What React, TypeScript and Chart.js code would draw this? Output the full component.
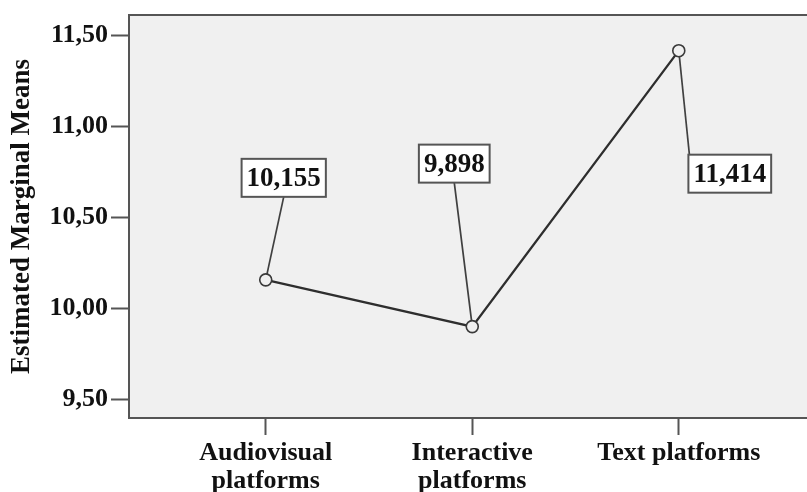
import React, { useEffect, useRef } from "react";
import { Chart, registerables } from "chart.js";

Chart.register(...registerables);

// ---- data ----
const categories: string[][] = [["Audiovisual", "platforms"], ["Interactive", "platforms"], ["Text platforms"]];
const means: number[] = [10.155, 9.898, 11.414];
const meanLabels: string[] = ["10,155", "9,898", "11,414"];
const yTicks: number[] = [9.5, 10, 10.5, 11, 11.5];
const yTickLabels: string[] = ["9,50", "10,00", "10,50", "11,00", "11,50"];
const yTitle = "Estimated Marginal Means";

// ---- label box placement (pixel offsets from each point) ----
const labelPlacement = [
  { dx: 18, dy: -102, anchor: "bottom" },
  { dx: -18, dy: -163, anchor: "bottom" },
  { dx: 51, dy: 123, anchor: "topleft" },
];

const FONT = '"Liberation Serif", "Times New Roman", serif';
const BORDER = "#555";

const frame = {
  id: "frame",
  beforeDraw(chart: any) {
    const { ctx, chartArea: a } = chart;
    ctx.save();
    ctx.fillStyle = "#f0f0f0";
    ctx.fillRect(a.left, a.top, chart.width - a.left, a.bottom - a.top);
    ctx.restore();
  },
  beforeDatasetsDraw(chart: any) {
    const { ctx, chartArea: a } = chart;
    ctx.save();
    ctx.strokeStyle = BORDER;
    ctx.lineWidth = 2;
    ctx.beginPath();
    ctx.moveTo(chart.width + 2, a.top);
    ctx.lineTo(a.left, a.top);
    ctx.lineTo(a.left, a.bottom);
    ctx.lineTo(chart.width + 2, a.bottom);
    ctx.stroke();
    // leader lines
    const meta = chart.getDatasetMeta(0);
    ctx.font = `bold 27px ${FONT}`;
    ctx.strokeStyle = "#404040";
    ctx.lineWidth = 1.7;
    meta.data.forEach((pt: any, i: number) => {
      const p = labelPlacement[i];
      const w = ctx.measureText(meanLabels[i]).width + 10;
      const h = 38;
      const cx = pt.x + p.dx;
      const cy = pt.y + p.dy;
      let ax = cx, ay = cy + h / 2;
      if (p.anchor === "topleft") { ax = cx - w / 2 + 1; ay = cy - h / 2; }
      ctx.beginPath();
      ctx.moveTo(ax, ay);
      ctx.lineTo(pt.x, pt.y);
      ctx.stroke();
    });
    ctx.restore();
  },
  afterDatasetsDraw(chart: any) {
    const { ctx } = chart;
    const meta = chart.getDatasetMeta(0);
    ctx.save();
    ctx.font = `bold 27px ${FONT}`;
    meta.data.forEach((pt: any, i: number) => {
      const p = labelPlacement[i];
      const w = ctx.measureText(meanLabels[i]).width + 10;
      const h = 38;
      const cx = pt.x + p.dx;
      const cy = pt.y + p.dy;
      ctx.fillStyle = "#ffffff";
      ctx.fillRect(cx - w / 2, cy - h / 2, w, h);
      ctx.strokeStyle = BORDER;
      ctx.lineWidth = 2;
      ctx.strokeRect(cx - w / 2, cy - h / 2, w, h);
      ctx.fillStyle = "#111";
      ctx.textAlign = "center";
      ctx.textBaseline = "middle";
      ctx.fillText(meanLabels[i], cx, cy + 1);
    });
    ctx.restore();
  },
};

export default function App() {
  const ref = useRef<HTMLCanvasElement>(null);
  useEffect(() => {
    if (!ref.current) return;
    const chart = new Chart(ref.current, {
      type: "line",
      data: {
        datasets: [
          {
            data: means.map((v, i) => ({ x: i, y: v })),
            borderColor: "#2e2e2e",
            borderWidth: 2.3,
            tension: 0,
            pointRadius: 6,
            pointBorderWidth: 1.6,
            pointBorderColor: "#3a3a3a",
            pointBackgroundColor: "#f0f0f0",
          },
        ],
      },
      options: {
        animation: false,
        responsive: false,
        devicePixelRatio: 1,
        layout: { padding: { top: 15, right: 0, bottom: 0, left: 0 } },
        plugins: { legend: { display: false }, tooltip: { enabled: false } },
        scales: {
          x: {
            type: "linear",
            min: -0.662,
            max: 2.584,
            afterBuildTicks: (s: any) => { s.ticks = categories.map((_, i) => ({ value: i })); },
            afterFit: (s: any) => { s.height = 74; },
            ticks: {
              callback: (v: any) => categories[v as number],
              font: { family: FONT, size: 26, weight: "bold", lineHeight: 1.05 },
              color: "#111",
              padding: 5,
              maxRotation: 0,
              autoSkip: false,
            },
            grid: { display: true, drawOnChartArea: false, drawTicks: true, tickLength: 17, tickColor: BORDER, tickWidth: 2 },
            border: { display: false },
          },
          y: {
            type: "linear",
            min: 9.396,
            max: 11.61,
            afterBuildTicks: (s: any) => { s.ticks = yTicks.map((v) => ({ value: v })); },
            afterFit: (s: any) => { s.width = 129; },
            ticks: {
              callback: (_v: any, i: number) => yTickLabels[i],
              font: { family: FONT, size: 26, weight: "bold", lineHeight: 0.9 },
              color: "#111",
              padding: 3,
              autoSkip: false,
            },
            grid: { display: true, drawOnChartArea: false, drawTicks: true, tickLength: 18, tickColor: BORDER, tickWidth: 2 },
            border: { display: false },
            title: {
              display: true,
              text: yTitle,
              font: { family: FONT, size: 27, weight: "bold" },
              color: "#111",
              padding: { top: 6, bottom: 0 },
            },
          },
        },
      },
      plugins: [frame],
    } as any);
    return () => chart.destroy();
  }, []);
  return (
    <div style={{ position: "absolute", left: 0, top: 0, width: 807, height: 492, background: "#fff", overflow: "hidden" }}>
      <canvas ref={ref} width={807} height={492} />
    </div>
  );
}
